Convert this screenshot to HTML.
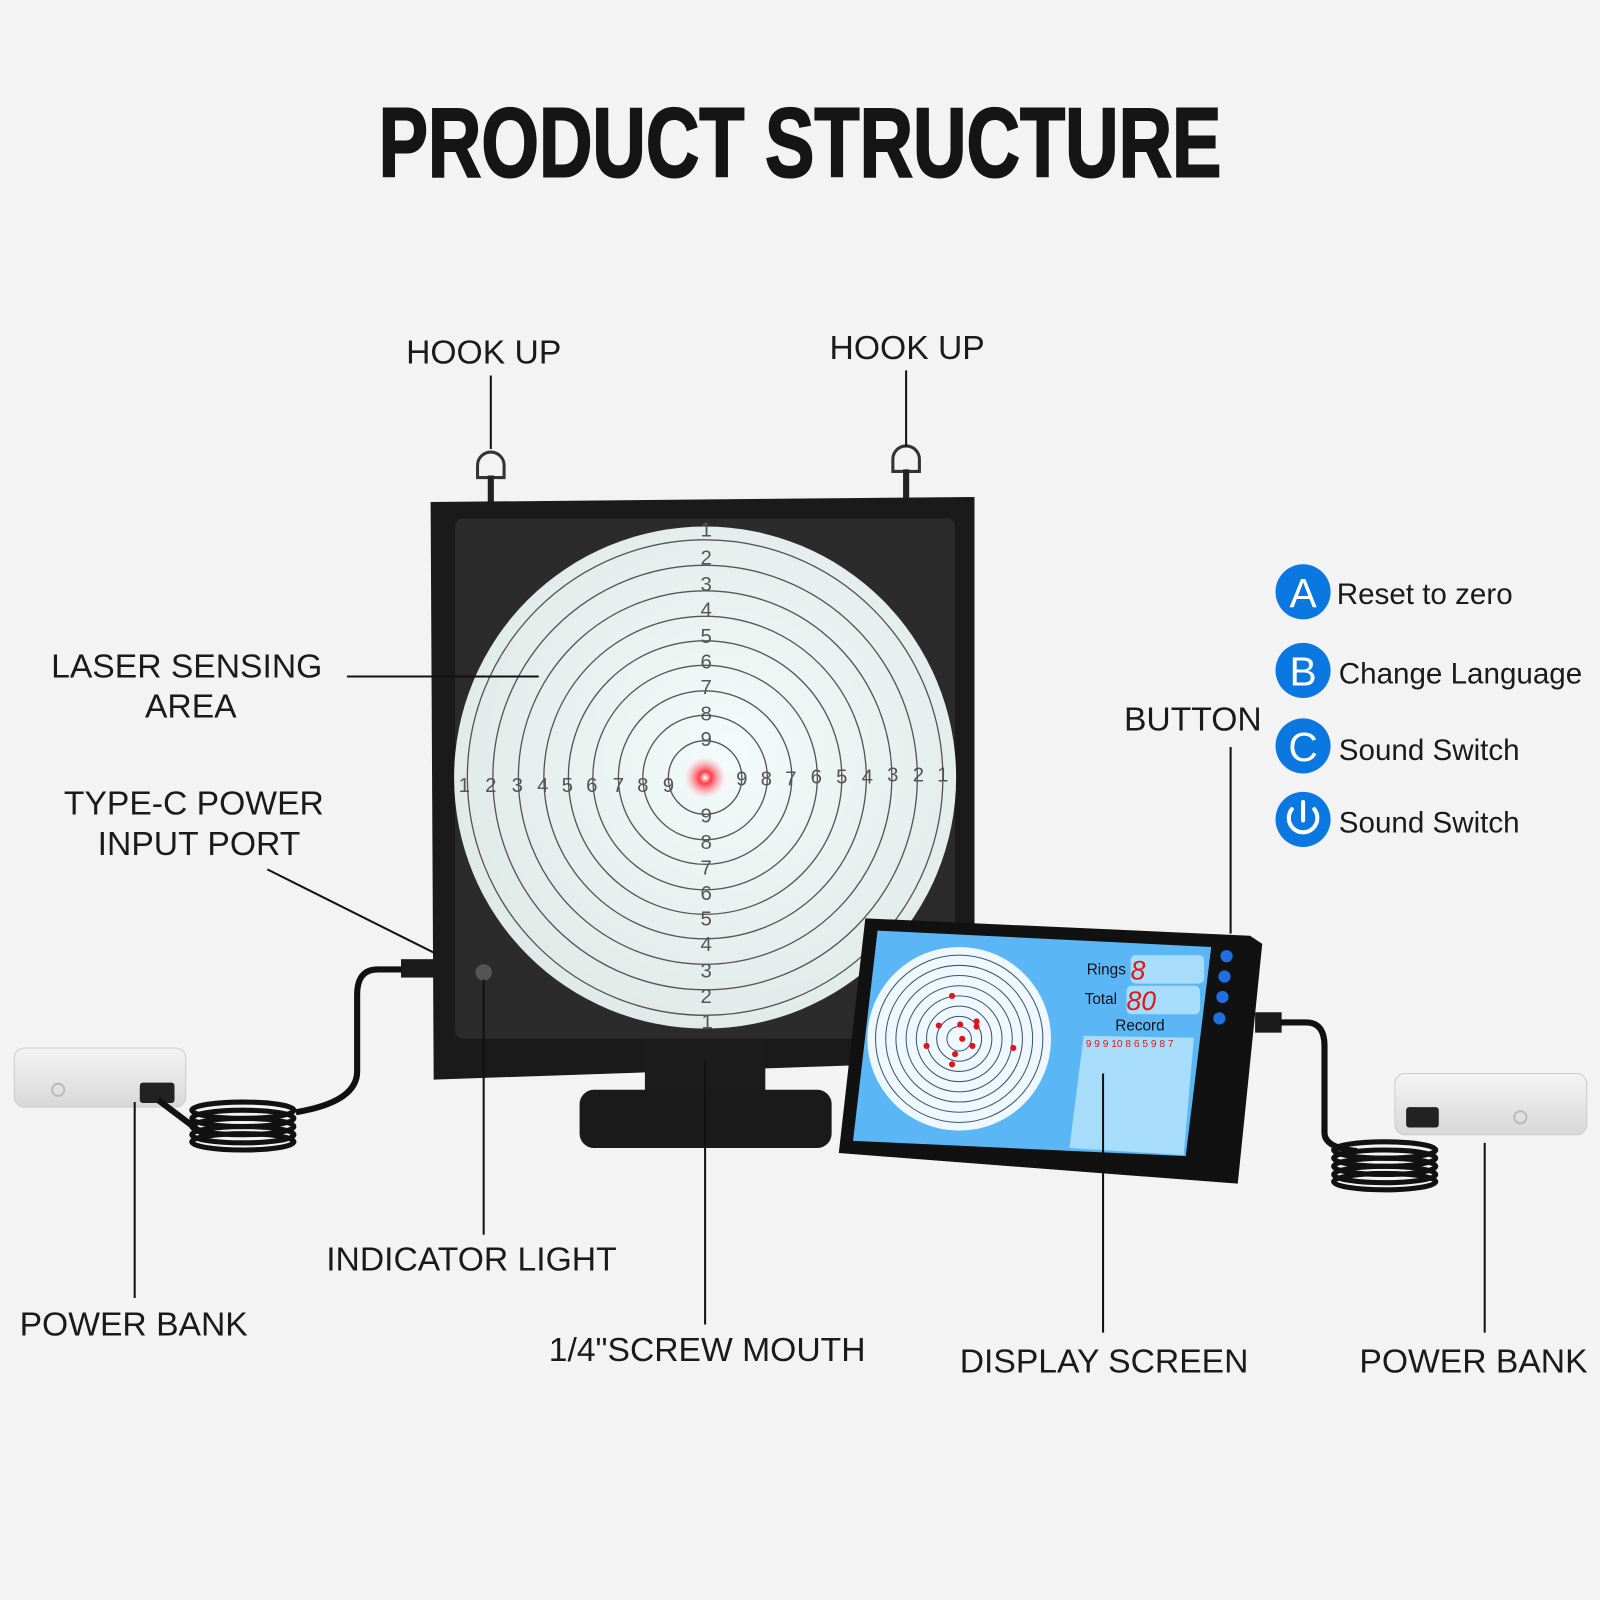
<!DOCTYPE html>
<html><head><meta charset="utf-8"><style>
html,body{margin:0;padding:0;background:#f3f3f3;}
svg{display:block;}
text{font-family:"Liberation Sans",sans-serif;}
</style></head><body>
<svg width="1600" height="1600" viewBox="0 0 1568 1568" xmlns="http://www.w3.org/2000/svg">
<defs>
<radialGradient id="tg" cx="0.55" cy="0.45" r="0.6"><stop offset="0" stop-color="#f4fbfa"/><stop offset="1" stop-color="#dfe9e6"/></radialGradient>
<radialGradient id="red" cx="0.5" cy="0.5" r="0.5"><stop offset="0" stop-color="#fff"/><stop offset="0.3" stop-color="#ff3a4a"/><stop offset="1" stop-color="#ff9aa3" stop-opacity="0"/></radialGradient>
<linearGradient id="pb" x1="0" y1="0" x2="0" y2="1"><stop offset="0" stop-color="#f4f4f4"/><stop offset="1" stop-color="#d8d8d8"/></linearGradient>
</defs>
<rect width="1568" height="1568" fill="#f3f3f3"/>
<text x="784" y="173" text-anchor="middle" font-family="Liberation Sans Narrow, Liberation Sans, sans-serif" font-weight="bold" font-size="96" textLength="826" lengthAdjust="spacingAndGlyphs" fill="#151515" stroke="#151515" stroke-width="2">PRODUCT STRUCTURE</text>

<!-- hooks -->
<g stroke="#333" stroke-width="3" fill="none">
<path d="M468 468 v-12 a13 13 0 0 1 26 0 v12 z"/>
<path d="M875 462 v-12 a13 13 0 0 1 26 0 v12 z"/>
</g>
<rect x="478" y="466" width="6" height="28" fill="#222"/>
<rect x="885" y="460" width="6" height="32" fill="#222"/>

<!-- target frame -->
<polygon points="422,492 955,487 955,1040 425,1058" fill="#1a1a1a"/>
<rect x="446" y="508" width="490" height="510" rx="8" fill="#2b2b2b"/>
<circle cx="691" cy="762" r="246" fill="url(#tg)"/>
<g fill="none" stroke="#555" stroke-width="1.3">
<circle cx="691" cy="762" r="233"/><circle cx="691" cy="762" r="208"/><circle cx="691" cy="762" r="183"/><circle cx="691" cy="762" r="158"/><circle cx="691" cy="762" r="134"/><circle cx="691" cy="762" r="110"/><circle cx="691" cy="762" r="85"/><circle cx="691" cy="762" r="61"/><circle cx="691" cy="762" r="36"/>
</g>
<circle cx="691" cy="762" r="20" fill="url(#red)"/>
<g font-size="20" fill="#555" text-anchor="middle">
<text x="455" y="776">1</text><text x="481" y="776">2</text><text x="507" y="776">3</text><text x="532" y="776">4</text><text x="556" y="776">5</text><text x="580" y="776">6</text><text x="606" y="776">7</text><text x="630" y="776">8</text><text x="655" y="776">9</text>
<text x="727" y="770">9</text><text x="751" y="770">8</text><text x="775" y="770">7</text><text x="800" y="768">6</text><text x="825" y="768">5</text><text x="850" y="768">4</text><text x="875" y="766">3</text><text x="900" y="766">2</text><text x="924" y="766">1</text>
<text x="692" y="526">1</text><text x="692" y="553">2</text><text x="692" y="579">3</text><text x="692" y="604">4</text><text x="692" y="630">5</text><text x="692" y="655">6</text><text x="692" y="680">7</text><text x="692" y="706">8</text><text x="692" y="731">9</text>
<text x="692" y="806">9</text><text x="692" y="832">8</text><text x="692" y="857">7</text><text x="692" y="882">6</text><text x="692" y="907">5</text><text x="692" y="932">4</text><text x="692" y="958">3</text><text x="692" y="983">2</text><text x="693" y="1008">1</text>
</g>
<circle cx="474" cy="953" r="8" fill="#555"/>
<!-- stand -->
<rect x="632" y="1018" width="118" height="62" fill="#1c1c1c"/>
<rect x="568" y="1068" width="247" height="57" rx="14" fill="#1a1a1a"/>

<!-- left power bank & cable -->
<rect x="14" y="1027" width="168" height="58" rx="10" fill="url(#pb)" stroke="#ccc"/>
<circle cx="57" cy="1068" r="6" fill="none" stroke="#bbb" stroke-width="2"/>
<rect x="137" y="1061" width="34" height="20" rx="3" fill="#222"/>
<path d="M155 1078 L200 1112 M400 950 L370 950 Q350 950 350 975 L350 1050 Q350 1080 290 1090" stroke="#111" stroke-width="6" fill="none"/>
<g fill="none" stroke="#111" stroke-width="5"><ellipse cx="238" cy="1088" rx="50" ry="8"/><ellipse cx="238" cy="1096" rx="50" ry="8"/><ellipse cx="238" cy="1104" rx="50" ry="8"/><ellipse cx="238" cy="1112" rx="50" ry="8"/><ellipse cx="238" cy="1119" rx="50" ry="8"/></g>
<rect x="393" y="940" width="35" height="18" fill="#1a1a1a"/>

<!-- display -->
<polygon points="848,900 1225,917 1237,925 1213,1160 822,1130" fill="#111"/>
<polygon points="860,912 1187,928 1162,1133 836,1118" fill="#5bb6f5"/>
<circle cx="940" cy="1018" r="90" fill="#eef8fd"/>
<g fill="none" stroke="#3a5470" stroke-width="1"><circle cx="940" cy="1018" r="82"/><circle cx="940" cy="1018" r="72"/><circle cx="940" cy="1018" r="62"/><circle cx="940" cy="1018" r="52"/><circle cx="940" cy="1018" r="42"/><circle cx="940" cy="1018" r="32"/><circle cx="940" cy="1018" r="22"/><circle cx="940" cy="1018" r="12"/></g>
<g fill="#e0141e"><circle cx="933" cy="976" r="3"/><circle cx="920" cy="1005" r="3"/><circle cx="957" cy="1001" r="3"/><circle cx="957" cy="1006" r="3"/><circle cx="943" cy="1018" r="3"/><circle cx="908" cy="1025" r="3"/><circle cx="953" cy="1025" r="3"/><circle cx="993" cy="1027" r="3"/><circle cx="936" cy="1033" r="3"/><circle cx="933" cy="1043" r="3"/><circle cx="941" cy="1004" r="3"/></g>
<rect x="1108" y="936" width="72" height="28" rx="5" fill="#a8dcfb"/>
<rect x="1104" y="966" width="72" height="28" rx="5" fill="#a8dcfb"/>
<polygon points="1062,1015 1170,1017 1160,1132 1048,1125" fill="#a8dcfb"/>
<text x="1065" y="955" font-size="15" fill="#111">Rings</text>
<text x="1108" y="960" font-size="26" fill="#e01818" font-family="Liberation Serif,serif" font-style="italic">8</text>
<text x="1063" y="984" font-size="15" fill="#111">Total</text>
<text x="1104" y="990" font-size="26" fill="#e01818" font-family="Liberation Serif,serif" font-style="italic">80</text>
<text x="1093" y="1010" font-size="15" fill="#111">Record</text>
<text x="1064" y="1026" font-size="10" fill="#e01818">9 9 9 10 8 6 5 9 8 7</text>
<g fill="#1f6fe0"><circle cx="1202" cy="937" r="6"/><circle cx="1200" cy="957" r="6"/><circle cx="1198" cy="977" r="6"/><circle cx="1195" cy="998" r="6"/></g>
<rect x="1230" y="992" width="26" height="20" fill="#1a1a1a"/>
<path d="M1255 1002 L1280 1002 Q1298 1002 1298 1025 L1298 1110 Q1298 1125 1330 1128 M1395 1088 L1380 1100" stroke="#111" stroke-width="6" fill="none"/>
<g fill="none" stroke="#111" stroke-width="5"><ellipse cx="1357" cy="1127" rx="50" ry="8"/><ellipse cx="1357" cy="1135" rx="50" ry="8"/><ellipse cx="1357" cy="1143" rx="50" ry="8"/><ellipse cx="1357" cy="1151" rx="50" ry="8"/><ellipse cx="1357" cy="1158" rx="50" ry="8"/></g>
<!-- right power bank -->
<rect x="1367" y="1052" width="188" height="60" rx="10" fill="url(#pb)" stroke="#ccc"/>
<rect x="1378" y="1085" width="32" height="20" rx="3" fill="#222"/>
<circle cx="1490" cy="1095" r="6" fill="none" stroke="#bbb" stroke-width="2"/>

<!-- leader lines -->
<g stroke="#111" stroke-width="2" fill="none">
<line x1="481" y1="368" x2="481" y2="440"/>
<line x1="888" y1="363" x2="888" y2="438"/>
<line x1="340" y1="663" x2="528" y2="663"/>
<line x1="262" y1="852" x2="428" y2="935"/>
<line x1="1206" y1="732" x2="1206" y2="915"/>
<line x1="474" y1="960" x2="474" y2="1210"/>
<line x1="132" y1="1080" x2="132" y2="1272"/>
<line x1="691" y1="1040" x2="691" y2="1298"/>
<line x1="1081" y1="1052" x2="1081" y2="1306"/>
<line x1="1455" y1="1120" x2="1455" y2="1306"/>
</g>

<!-- labels -->
<g font-size="33" fill="#1a1a1a">
<text x="474" y="356" text-anchor="middle">HOOK UP</text>
<text x="889" y="352" text-anchor="middle">HOOK UP</text>
<text x="183" y="664" text-anchor="middle">LASER SENSING</text>
<text x="187" y="703" text-anchor="middle">AREA</text>
<text x="190" y="798" text-anchor="middle">TYPE-C POWER</text>
<text x="195" y="838" text-anchor="middle">INPUT PORT</text>
<text x="1169" y="716" text-anchor="middle">BUTTON</text>
<text x="462" y="1245" text-anchor="middle">INDICATOR LIGHT</text>
<text x="131" y="1309" text-anchor="middle">POWER BANK</text>
<text x="693" y="1334" text-anchor="middle">1/4"SCREW MOUTH</text>
<text x="1082" y="1345" text-anchor="middle">DISPLAY SCREEN</text>
<text x="1444" y="1345" text-anchor="middle">POWER BANK</text>
</g>

<!-- buttons legend -->
<g fill="#0a78e0"><circle cx="1277" cy="580" r="27"/><circle cx="1277" cy="657" r="27"/><circle cx="1277" cy="731" r="27"/><circle cx="1277" cy="803" r="27"/></g>
<g fill="#fff" font-size="40" text-anchor="middle"><text x="1277" y="595">A</text><text x="1277" y="672">B</text><text x="1277" y="746">C</text></g>
<path d="M1266 793 A14 14 0 1 0 1288 793" stroke="#fff" stroke-width="4" fill="none" stroke-linecap="round"/>
<line x1="1277" y1="786" x2="1277" y2="804" stroke="#fff" stroke-width="4" stroke-linecap="round"/>
<g font-size="29" fill="#1a1a1a">
<text x="1310" y="592">Reset to zero</text>
<text x="1312" y="670">Change Language</text>
<text x="1312" y="745">Sound Switch</text>
<text x="1312" y="816">Sound Switch</text>
</g>
</svg>
</body></html>
